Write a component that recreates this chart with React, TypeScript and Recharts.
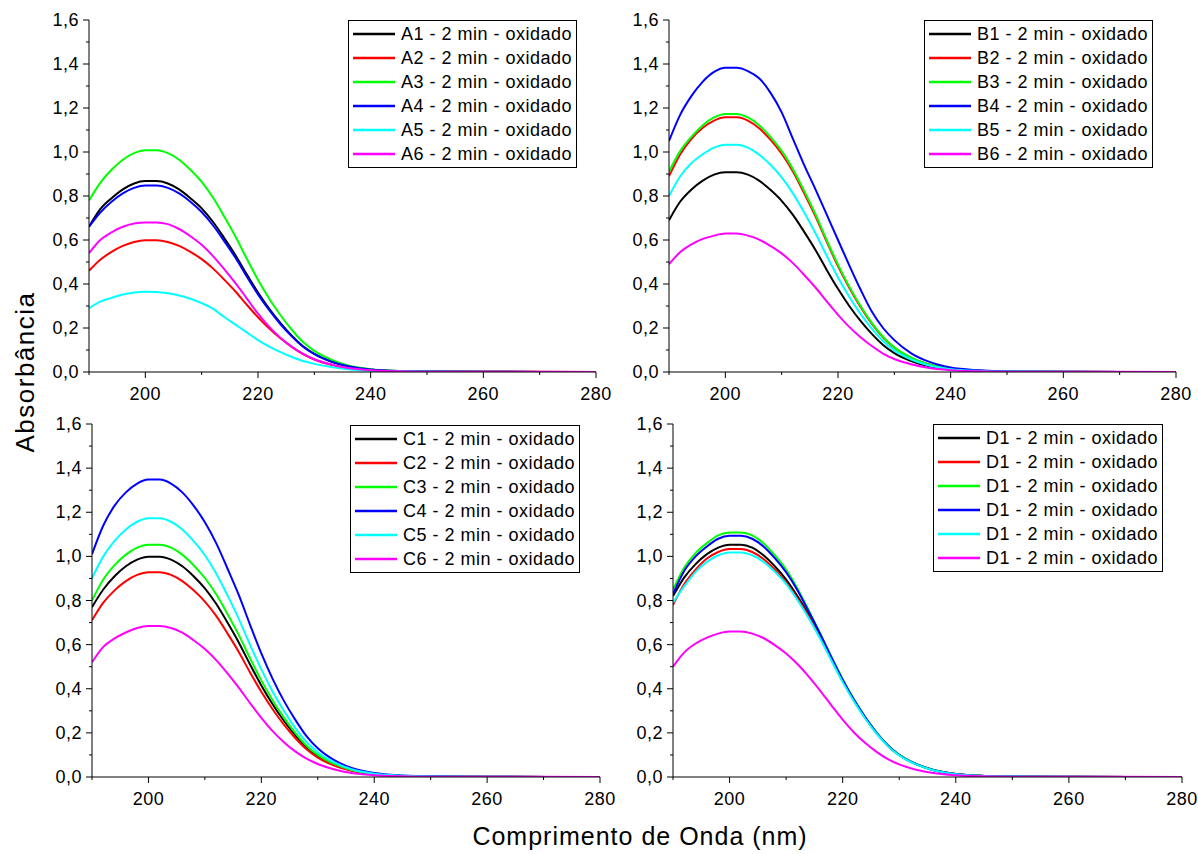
import React from 'react';
import { LineChart, Line, XAxis, YAxis, Legend } from 'recharts';

const FONT = '"Liberation Sans", Arial, Helvetica, sans-serif';

// wavelength grid (nm)
const wavelengths = [190, 192, 194, 196, 198, 200, 202, 204, 206, 208, 210, 212, 214, 216, 218, 220, 222, 224, 226, 228, 230, 233, 236, 240, 245, 250, 260, 280];

const colors = ['#000000', '#ff0000', '#00ff00', '#0000ff', '#00ffff', '#ff00ff'];

const xTicks = [190, 200, 210, 220, 230, 240, 250, 260, 270, 280];
const yTicks = [0, 0.1, 0.2, 0.3, 0.4, 0.5, 0.6, 0.7, 0.8, 0.9, 1.0, 1.1, 1.2, 1.3, 1.4, 1.5, 1.6];

// Panel A
const namesA = ['A1 - 2 min - oxidado', 'A2 - 2 min - oxidado', 'A3 - 2 min - oxidado', 'A4 - 2 min - oxidado', 'A5 - 2 min - oxidado', 'A6 - 2 min - oxidado'];
const a1 = [0.66, 0.74, 0.79, 0.83, 0.857, 0.868, 0.868, 0.857, 0.83, 0.79, 0.744, 0.683, 0.609, 0.531, 0.444, 0.361, 0.287, 0.222, 0.165, 0.117, 0.083, 0.048, 0.026, 0.011, 0.004, 0.002, 0.001, 0];
const a2 = [0.46, 0.51, 0.546, 0.573, 0.591, 0.599, 0.599, 0.591, 0.573, 0.546, 0.513, 0.471, 0.42, 0.366, 0.306, 0.249, 0.198, 0.153, 0.114, 0.081, 0.057, 0.033, 0.018, 0.008, 0.003, 0.001, 0.001, 0];
const a3 = [0.78, 0.86, 0.919, 0.965, 0.995, 1.008, 1.008, 0.995, 0.965, 0.919, 0.864, 0.793, 0.707, 0.616, 0.515, 0.419, 0.333, 0.258, 0.192, 0.136, 0.096, 0.056, 0.03, 0.013, 0.005, 0.002, 0.001, 0];
const a4 = [0.66, 0.725, 0.774, 0.812, 0.837, 0.848, 0.848, 0.837, 0.812, 0.774, 0.727, 0.667, 0.595, 0.519, 0.434, 0.353, 0.281, 0.217, 0.162, 0.115, 0.081, 0.047, 0.026, 0.011, 0.004, 0.002, 0.001, 0];
const a5 = [0.29, 0.32, 0.337, 0.352, 0.361, 0.365, 0.364, 0.358, 0.348, 0.333, 0.313, 0.288, 0.25, 0.215, 0.18, 0.145, 0.115, 0.09, 0.068, 0.05, 0.037, 0.023, 0.013, 0.006, 0.003, 0.001, 0, 0];
const a6 = [0.54, 0.6, 0.635, 0.66, 0.675, 0.68, 0.68, 0.672, 0.65, 0.617, 0.578, 0.527, 0.468, 0.404, 0.335, 0.265, 0.205, 0.155, 0.115, 0.082, 0.058, 0.034, 0.018, 0.008, 0.003, 0.001, 0.001, 0];

// Panel B
const namesB = ['B1 - 2 min - oxidado', 'B2 - 2 min - oxidado', 'B3 - 2 min - oxidado', 'B4 - 2 min - oxidado', 'B5 - 2 min - oxidado', 'B6 - 2 min - oxidado'];
const b1 = [0.69, 0.775, 0.83, 0.87, 0.897, 0.908, 0.908, 0.897, 0.87, 0.828, 0.778, 0.714, 0.637, 0.555, 0.464, 0.378, 0.3, 0.232, 0.173, 0.123, 0.086, 0.05, 0.027, 0.012, 0.005, 0.002, 0.001, 0];
const b2 = [0.89, 0.99, 1.06, 1.11, 1.143, 1.158, 1.158, 1.143, 1.108, 1.056, 0.992, 0.911, 0.812, 0.708, 0.592, 0.481, 0.383, 0.296, 0.22, 0.157, 0.11, 0.064, 0.035, 0.015, 0.006, 0.002, 0.001, 0];
const b3 = [0.91, 1.005, 1.07, 1.122, 1.157, 1.173, 1.173, 1.157, 1.122, 1.069, 1.005, 0.922, 0.823, 0.717, 0.599, 0.488, 0.388, 0.3, 0.223, 0.159, 0.112, 0.065, 0.035, 0.015, 0.006, 0.002, 0.001, 0];
const b4 = [1.05, 1.17, 1.255, 1.32, 1.364, 1.383, 1.383, 1.368, 1.335, 1.27, 1.18, 1.06, 0.94, 0.83, 0.715, 0.6, 0.485, 0.375, 0.275, 0.2, 0.145, 0.085, 0.048, 0.02, 0.008, 0.003, 0.001, 0];
const b5 = [0.8, 0.89, 0.95, 0.99, 1.02, 1.033, 1.033, 1.02, 0.988, 0.942, 0.885, 0.812, 0.725, 0.631, 0.528, 0.43, 0.342, 0.264, 0.197, 0.14, 0.098, 0.057, 0.031, 0.013, 0.005, 0.002, 0.001, 0];
const b6 = [0.49, 0.545, 0.58, 0.605, 0.62, 0.629, 0.629, 0.62, 0.602, 0.573, 0.539, 0.495, 0.441, 0.384, 0.321, 0.26, 0.205, 0.158, 0.118, 0.084, 0.059, 0.035, 0.019, 0.008, 0.003, 0.001, 0.001, 0];

// Panel C
const namesC = ['C1 - 2 min - oxidado', 'C2 - 2 min - oxidado', 'C3 - 2 min - oxidado', 'C4 - 2 min - oxidado', 'C5 - 2 min - oxidado', 'C6 - 2 min - oxidado'];
const c1 = [0.77, 0.85, 0.91, 0.955, 0.985, 0.998, 0.998, 0.985, 0.955, 0.91, 0.855, 0.785, 0.7, 0.61, 0.51, 0.415, 0.33, 0.255, 0.19, 0.135, 0.095, 0.055, 0.03, 0.013, 0.005, 0.002, 0.001, 0];
const c2 = [0.71, 0.79, 0.846, 0.888, 0.916, 0.928, 0.928, 0.916, 0.888, 0.846, 0.795, 0.73, 0.651, 0.567, 0.474, 0.386, 0.307, 0.237, 0.177, 0.126, 0.088, 0.051, 0.028, 0.012, 0.005, 0.002, 0.001, 0];
const c3 = [0.8, 0.895, 0.96, 1.008, 1.04, 1.053, 1.053, 1.04, 1.008, 0.96, 0.902, 0.828, 0.739, 0.644, 0.538, 0.438, 0.348, 0.269, 0.2, 0.142, 0.1, 0.058, 0.032, 0.014, 0.005, 0.002, 0.001, 0];
const c4 = [1.01, 1.14, 1.23, 1.29, 1.33, 1.348, 1.348, 1.33, 1.29, 1.23, 1.155, 1.06, 0.945, 0.825, 0.69, 0.56, 0.445, 0.345, 0.26, 0.185, 0.13, 0.075, 0.041, 0.018, 0.007, 0.003, 0.001, 0];
const c5 = [0.9, 1.0, 1.07, 1.122, 1.157, 1.173, 1.173, 1.157, 1.122, 1.069, 1.005, 0.922, 0.823, 0.717, 0.599, 0.488, 0.388, 0.3, 0.223, 0.159, 0.112, 0.065, 0.035, 0.015, 0.006, 0.002, 0.001, 0];
const c6 = [0.52, 0.59, 0.628, 0.655, 0.675, 0.684, 0.684, 0.675, 0.654, 0.62, 0.58, 0.53, 0.47, 0.405, 0.335, 0.268, 0.208, 0.158, 0.116, 0.083, 0.059, 0.034, 0.018, 0.008, 0.003, 0.001, 0.001, 0];

// Panel D (legend labels are all D1 in the original)
const namesD = ['D1 - 2 min - oxidado', 'D1 - 2 min - oxidado', 'D1 - 2 min - oxidado', 'D1 - 2 min - oxidado', 'D1 - 2 min - oxidado', 'D1 - 2 min - oxidado'];
const d1 = [0.82, 0.905, 0.965, 1.01, 1.04, 1.053, 1.053, 1.04, 1.005, 0.955, 0.895, 0.82, 0.735, 0.64, 0.537, 0.437, 0.348, 0.269, 0.2, 0.142, 0.1, 0.058, 0.032, 0.014, 0.005, 0.002, 0.001, 0];
const d2 = [0.78, 0.875, 0.94, 0.99, 1.02, 1.033, 1.033, 1.02, 0.988, 0.94, 0.882, 0.81, 0.728, 0.637, 0.535, 0.436, 0.347, 0.268, 0.199, 0.142, 0.1, 0.058, 0.032, 0.014, 0.005, 0.002, 0.001, 0];
const d3 = [0.85, 0.95, 1.015, 1.06, 1.095, 1.108, 1.108, 1.095, 1.06, 1.005, 0.94, 0.855, 0.755, 0.652, 0.545, 0.443, 0.352, 0.271, 0.201, 0.143, 0.101, 0.059, 0.033, 0.014, 0.005, 0.002, 0.001, 0];
const d4 = [0.83, 0.935, 1.0, 1.045, 1.08, 1.093, 1.093, 1.08, 1.045, 0.992, 0.928, 0.847, 0.75, 0.649, 0.543, 0.441, 0.35, 0.27, 0.2, 0.143, 0.1, 0.058, 0.032, 0.014, 0.005, 0.002, 0.001, 0];
const d5 = [0.79, 0.865, 0.93, 0.975, 1.005, 1.018, 1.018, 1.005, 0.975, 0.93, 0.875, 0.802, 0.72, 0.628, 0.528, 0.43, 0.342, 0.264, 0.196, 0.14, 0.098, 0.057, 0.031, 0.013, 0.005, 0.002, 0.001, 0];
const d6 = [0.5, 0.565, 0.605, 0.632, 0.65, 0.659, 0.659, 0.65, 0.63, 0.598, 0.56, 0.512, 0.455, 0.392, 0.325, 0.26, 0.202, 0.154, 0.114, 0.081, 0.057, 0.033, 0.018, 0.008, 0.003, 0.001, 0.001, 0];

const XTick = ({ x, y, payload }: any) => {
  const v = payload.value;
  const major = (v - 200) % 20 === 0;
  return (
    <g>
      <line x1={x} y1={y} x2={x} y2={y + (major ? 6 : 3)} stroke="#000" />
      {major && (
        <text x={x} y={y + 28} textAnchor="middle" fontSize={18} letterSpacing={0.5} fill="#000" fontFamily={FONT}>
          {v}
        </text>
      )}
    </g>
  );
};

const YTick = ({ x, y, payload }: any) => {
  const v = payload.value;
  const major = Math.round(v * 10) % 2 === 0;
  return (
    <g>
      <line x1={x} y1={y} x2={x - (major ? 6 : 3)} y2={y} stroke="#000" />
      {major && (
        <text x={x - 10} y={y + 6} textAnchor="end" fontSize={18} letterSpacing={0.5} fill="#000" fontFamily={FONT}>
          {v.toFixed(1).replace('.', ',')}
        </text>
      )}
    </g>
  );
};

const LegendBox = ({ names }: { names: string[] }) => (
  <div
    style={{
      border: '1px solid #000',
      background: '#fff',
      padding: '1px 4px 1px 4px',
      fontFamily: FONT,
      fontSize: 18,
      letterSpacing: 0.5,
      color: '#000',
    }}
  >
    {names.map((n, k) => (
      <div key={k} style={{ display: 'flex', alignItems: 'center', height: 24, whiteSpace: 'nowrap' }}>
        <svg width={42} height={6} style={{ display: 'block' }}>
          <line x1={0} y1={3} x2={42} y2={3} stroke={colors[k]} strokeWidth={2.5} />
        </svg>
        <span style={{ marginLeft: 6 }}>{n}</span>
      </div>
    ))}
  </div>
);

type PanelProps = {
  series: number[][];
  names: string[];
  px: number;
  py: number;
  pw: number;
  ph: number;
  legendRight: number;
  legendTop: number;
};

function Panel({ series, names, px, py, pw, ph, legendRight, legendTop }: PanelProps) {
  const rows = wavelengths.map((w, i) => {
    const r: any = { w };
    series.forEach((s, k) => {
      r['s' + k] = s[i];
    });
    return r;
  });

  return (
    <div style={{ position: 'absolute', left: px - 50, top: py - 10 }}>
      <LineChart width={50 + pw + 20} height={10 + ph + 34} data={rows} margin={{ top: 10, right: 20, left: 0, bottom: 0 }}>
        <XAxis
          dataKey="w"
          type="number"
          domain={[190, 280]}
          ticks={xTicks}
          interval={0}
          tick={XTick}
          tickLine={false}
          tickSize={0}
          tickMargin={0}
          height={34}
          axisLine={{ stroke: '#000' }}
          allowDataOverflow
        />
        <YAxis
          type="number"
          domain={[0, 1.6]}
          ticks={yTicks}
          interval={0}
          tick={YTick}
          tickLine={false}
          tickSize={0}
          tickMargin={0}
          width={50}
          axisLine={{ stroke: '#000' }}
          allowDataOverflow
        />
        <Legend
          layout="horizontal"
          verticalAlign="middle"
          align="center"
          content={() => <LegendBox names={names} />}
          wrapperStyle={{ left: 'auto', right: legendRight, top: legendTop, bottom: 'auto', width: 'auto', height: 'auto' }}
        />
        {series.map((s, k) => (
          <Line
            key={k}
            dataKey={'s' + k}
            name={names[k]}
            stroke={colors[k]}
            strokeWidth={2}
            dot={false}
            type="monotone"
            isAnimationActive={false}
          />
        ))}
      </LineChart>
    </div>
  );
}

export default function App() {
  return (
    <div
      style={{
        position: 'absolute',
        left: 0,
        top: 0,
        width: 1198,
        height: 854,
        overflow: 'hidden',
        background: '#fff',
        fontFamily: FONT,
      }}
    >
      <Panel series={[a1, a2, a3, a4, a5, a6]} names={namesA} px={89} py={20} pw={507} ph={352} legendRight={39} legendTop={10} />
      <Panel series={[b1, b2, b3, b4, b5, b6]} names={namesB} px={669} py={20} pw={507} ph={352} legendRight={43} legendTop={10} />
      <Panel series={[c1, c2, c3, c4, c5, c6]} names={namesC} px={92} py={424} pw={508} ph={353} legendRight={40} legendTop={11} />
      <Panel series={[d1, d2, d3, d4, d5, d6]} names={namesD} px={673} py={424} pw={509} ph={353} legendRight={39} legendTop={10} />

      <div
        style={{
          position: 'absolute',
          left: 25,
          top: 372,
          transform: 'translate(-50%, -50%) rotate(-90deg)',
          whiteSpace: 'nowrap',
          fontSize: 26,
          letterSpacing: 1.5,
          lineHeight: 1,
          color: '#000',
        }}
      >
        Absorbância
      </div>
      <div
        style={{
          position: 'absolute',
          left: 640,
          top: 824,
          transform: 'translateX(-50%)',
          whiteSpace: 'nowrap',
          fontSize: 25,
          letterSpacing: 1,
          lineHeight: 1,
          color: '#000',
        }}
      >
        Comprimento de Onda (nm)
      </div>
    </div>
  );
}
